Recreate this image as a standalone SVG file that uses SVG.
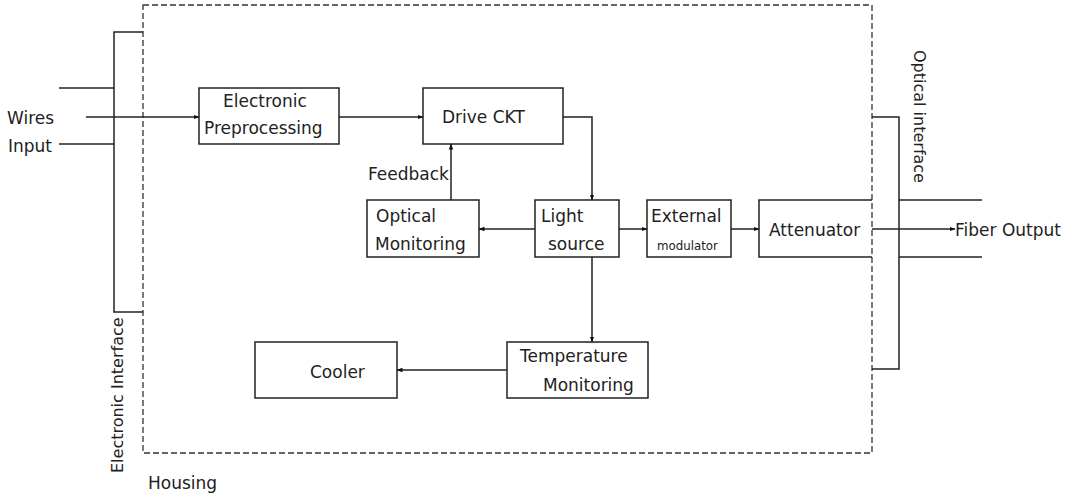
<svg xmlns="http://www.w3.org/2000/svg" width="1068" height="493" viewBox="0 0 1068 493">
<style>
.box{fill:#fff;stroke:#222;stroke-width:1.5}
.ln{fill:none;stroke:#222;stroke-width:1.5}
.dash{fill:none;stroke:#333;stroke-width:1.3;stroke-dasharray:6 3}
text{font-family:"DejaVu Sans",Verdana,sans-serif;font-size:17px;fill:#222}
.sm{font-size:11.8px}
.rot{font-size:16px}
</style>
<defs>
<marker id="arr" viewBox="0 0 6 6" refX="5.5" refY="3" markerWidth="6" markerHeight="6" markerUnits="userSpaceOnUse" orient="auto">
<path d="M0,0.8 L6,3 L0,5.2 z" fill="#111"/>
</marker>
</defs>
<rect width="1068" height="493" fill="#fff"/>
<g id="housing">
<rect class="dash" x="143" y="5" width="729" height="448"/>
<text x="148" y="489">Housing</text>
</g>
<g id="electronic-interface">
<path class="ln" d="M143,32 H114 V312 H143"/>
<line class="ln" x1="59" y1="88" x2="114" y2="88"/>
<line class="ln" x1="59" y1="144" x2="114" y2="144"/>
<text x="7" y="124">Wires</text>
<text x="8" y="152">Input</text>
<text class="rot" transform="translate(123,473) rotate(-90)">Electronic Interface</text>
</g>
<g id="optical-interface">
<path class="ln" d="M872,117 H899 V369 H872"/>
<line class="ln" x1="899" y1="200" x2="982" y2="200"/>
<line class="ln" x1="899" y1="257" x2="982" y2="257"/>
<text class="rot" transform="translate(914,50) rotate(90)">Optical interface</text>
<text x="955" y="236">Fiber Output</text>
</g>
<g id="electronic-preprocessing">
<rect class="box" x="199" y="88" width="140" height="56"/>
<text x="223" y="107">Electronic</text>
<text x="204" y="134">Preprocessing</text>
</g>
<g id="drive-ckt">
<rect class="box" x="423" y="88" width="140" height="56"/>
<text x="442" y="123">Drive CKT</text>
</g>
<g id="optical-monitoring">
<rect class="box" x="367" y="200" width="112" height="57"/>
<text x="376" y="222">Optical</text>
<text x="375" y="250">Monitoring</text>
</g>
<g id="light-source">
<rect class="box" x="535" y="200" width="84" height="57"/>
<text x="541" y="222">Light</text>
<text x="548" y="250">source</text>
</g>
<g id="external-modulator">
<rect class="box" x="647" y="200" width="84" height="57"/>
<text x="651" y="222">External</text>
<text class="sm" x="657" y="250">modulator</text>
</g>
<g id="attenuator">
<path class="ln" d="M872,200 H759 V257 H872"/>
<text x="769" y="236">Attenuator</text>
</g>
<g id="cooler">
<rect class="box" x="255" y="342" width="142" height="56"/>
<text x="310" y="378">Cooler</text>
</g>
<g id="temperature-monitoring">
<rect class="box" x="507" y="342" width="141" height="56"/>
<text x="520" y="362">Temperature</text>
<text x="543" y="391">Monitoring</text>
</g>
<g id="connectors">
<line class="ln" x1="86" y1="117" x2="199" y2="117" marker-end="url(#arr)"/>
<line class="ln" x1="339" y1="117" x2="423" y2="117" marker-end="url(#arr)"/>
<path class="ln" d="M563,117 H592 V200" marker-end="url(#arr)"/>
<line class="ln" x1="451" y1="200" x2="451" y2="144" marker-end="url(#arr)"/>
<text x="368" y="180">Feedback</text>
<line class="ln" x1="535" y1="229" x2="479" y2="229" marker-end="url(#arr)"/>
<line class="ln" x1="619" y1="229" x2="647" y2="229" marker-end="url(#arr)"/>
<line class="ln" x1="731" y1="229" x2="759" y2="229" marker-end="url(#arr)"/>
<line class="ln" x1="872" y1="229" x2="955" y2="229" marker-end="url(#arr)"/>
<line class="ln" x1="592" y1="257" x2="592" y2="342" marker-end="url(#arr)"/>
<line class="ln" x1="507" y1="370" x2="397" y2="370" marker-end="url(#arr)"/>
</g>
</svg>
